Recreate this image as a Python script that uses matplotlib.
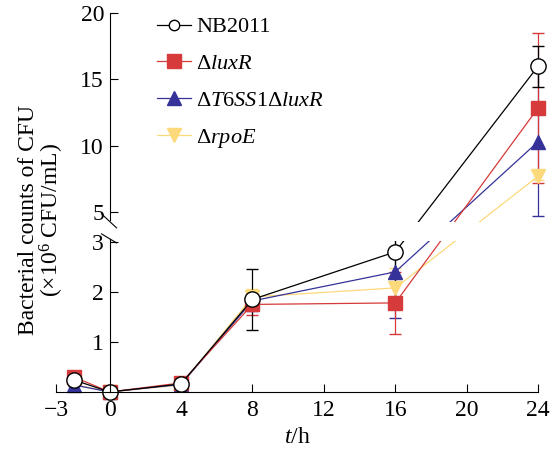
import matplotlib

matplotlib.use("Agg")

import matplotlib.pyplot as plt  # noqa: E402
import numpy as np  # noqa: E402
from matplotlib.patches import Rectangle  # noqa: E402

plt.rcParams["font.family"] = ["Liberation Serif", "DejaVu Serif"]
plt.rcParams["mathtext.fontset"] = "custom"
plt.rcParams["mathtext.rm"] = "Liberation Serif"
plt.rcParams["mathtext.it"] = "Liberation Serif:italic"

hours = [-2, 0, 4, 8, 16, 24]

nb2011 = [0.24, 0.0, 0.16, 1.85, 2.80, 16.0]
nb2011_err = [0.04, 0.02, 0.04, 0.61, 0.90, 1.55]

lux_r = [0.30, 0.0, 0.18, 1.75, 1.78, 12.85]
lux_r_err = [0.04, 0.02, 0.04, 0.22, 0.62, 5.65]

t6ss1_lux_r = [0.14, 0.0, 0.15, 1.82, 2.40, 10.3]
t6ss1_lux_r_err = [0.03, 0.02, 0.03, 0.20, 0.92, 5.60]

rpo_e = [0.15, 0.0, 0.14, 1.90, 2.08, 7.7]
rpo_e_err = [0.03, 0.02, 0.03, 0.15, 0.40, 0.30]

labels = [
    "NB2011",
    "Δ$\\mathit{luxR}$",
    "Δ$\\mathit{T6SS1}$Δ$\\mathit{luxR}$",
    "Δ$\\mathit{rpoE}$",
]

x_ticks = [-3, 0, 4, 8, 12, 16, 20, 24]
y_ticks = [1, 2, 3, 5, 10, 15, 20]

# broken axis: 0-3 normal, 3-5 squeezed, 5-20 compressed
UPPER_SLOPE = 0.265


def forward(y):
    y = np.asarray(y, dtype=float)
    low = y
    mid = 3.0 + (y - 3.0) * 0.3
    high = 3.6 + (y - 5.0) * UPPER_SLOPE
    return np.where(y <= 3.0, low, np.where(y <= 5.0, mid, high))


def inverse(v):
    v = np.asarray(v, dtype=float)
    low = v
    mid = 3.0 + (v - 3.0) / 0.3
    high = 5.0 + (v - 3.6) / UPPER_SLOPE
    return np.where(v <= 3.0, low, np.where(v <= 3.6, mid, high))


fig = plt.figure(figsize=(5.6, 4.5), dpi=100)
ax = fig.add_axes([0.1, 0.129, 0.861, 0.842])
ax.set_yscale("function", functions=(forward, inverse))

series = [
    (rpo_e, rpo_e_err, "#fcd97a", "v", "#fcd97a", 10),
    (t6ss1_lux_r, t6ss1_lux_r_err, "#35329a", "^", "#35329a", 10),
    (lux_r, lux_r_err, "#d63a3a", "s", "#d63a3a", 10),
    (nb2011, nb2011_err, "black", "o", "white", 11),
]

handles = []
for values, errors, color, marker, face, size in series:
    cont = ax.errorbar(
        hours,
        values,
        yerr=errors,
        color=color,
        marker=marker,
        markerfacecolor=face,
        markeredgecolor=color,
        markeredgewidth=1.0,
        markersize=size,
        linewidth=0.9,
        elinewidth=0.9,
        capsize=4.5,
        capthick=0.9,
        clip_on=False,
        zorder=2,
    )
    for artist in cont.get_children():
        artist.set_clip_on(False)
    handles.append(cont[0])

# white band hides the lines inside the axis break
ax.add_patch(
    Rectangle(
        (0.15, 3.04), 25.5, 4.32 - 3.04,
        facecolor="white", edgecolor="none", zorder=3, clip_on=False,
    )
)

ax.set_xlim(-3, 24)
ax.set_ylim(0, 20)
ax.set_xticks(x_ticks)
ax.set_yticks(y_ticks)
ax.tick_params(direction="in", length=5.5, width=0.8, labelsize=17)
ax.tick_params(axis="x", pad=6)
ax.tick_params(axis="y", pad=4)

ax.spines["top"].set_visible(False)
ax.spines["right"].set_visible(False)
ax.spines["left"].set_position(("data", 0))
ax.spines["left"].set_bounds(0, 3.18)
ax.spines["left"].set_linewidth(0.8)
ax.spines["bottom"].set_linewidth(0.8)
ax.plot([0, 0], [4.47, 20], color="black", linewidth=0.8, clip_on=False, zorder=4)

# break marks
for v_top, v_bottom in [(3.56, 3.28), (3.16, 2.98)]:
    ax.plot(
        [-0.45, 0.39],
        inverse([v_top, v_bottom]),
        color="black",
        linewidth=0.8,
        clip_on=False,
        zorder=4,
    )

ax.set_xlabel("$\\mathit{t}$/h", fontsize=17, labelpad=4)
ax.set_ylabel("Bacterial counts of CFU\n(×10$^{6}$ CFU/mL)", fontsize=17, linespacing=0.95)
ax.yaxis.set_label_coords(0.02, 0.455)

legend = ax.legend(
    handles[::-1],
    labels,
    loc="upper left",
    bbox_to_anchor=(0.21, 0.99),
    frameon=False,
    fontsize=16,
    handlelength=1.5,
    handletextpad=0.25,
    labelspacing=0.72,
    borderpad=0,
    borderaxespad=0,
)
for handle, msize in zip(legend.legend_handles, [7.5, 9.5, 9.5, 9.5]):
    handle.set_markersize(msize)

fig.savefig("out.png", dpi=100)
